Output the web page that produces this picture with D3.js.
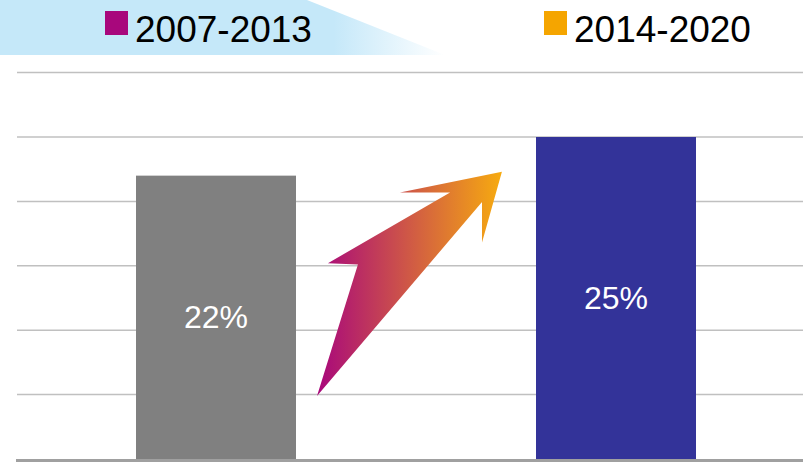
<!DOCTYPE html>
<html>
<head>
<meta charset="utf-8">
<script src="https://cdn.jsdelivr.net/npm/d3@7"></script>
<style>
  body { margin: 0; background: #fff; }
  svg { display: block; font-family: "Liberation Sans", Arial, sans-serif; }
</style>
</head>
<body>
<div id="chart"></div>
<script>
// data
var periods = ["2007-2013", "2014-2020"];
var shares = [22, 25];
var barColors = ["#808080", "#333399"];
var legendColors = ["#a8077c", "#f5a500"];
var gridTicks = [5, 10, 15, 20, 25, 30];

// arrow outline: x as fraction of the gap between bars, y in percent
var arrowX = [0.0875, 0.258, 0.133, 0.642, 0.433, 0.858, 0.775, 0.775];
var arrowY = [4.9, 15.1, 15.2, 20.7, 20.7, 22.3, 16.8, 19.95];

var width = 803, height = 462;
var baseY = 459;

var svg = d3.select("#chart").append("svg")
    .attr("width", width)
    .attr("height", height);

var defs = svg.append("defs");

var bannerGrad = defs.append("linearGradient")
    .attr("id", "bannerGrad")
    .attr("x1", "0").attr("x2", "1").attr("y1", "0").attr("y2", "0");
bannerGrad.append("stop").attr("offset", "0.75").attr("stop-color", "#c5e8f9");
bannerGrad.append("stop").attr("offset", "1").attr("stop-color", "#c5e8f9").attr("stop-opacity", 0);

var arrowGrad = defs.append("linearGradient")
    .attr("id", "arrowGrad")
    .attr("x1", "0").attr("x2", "1").attr("y1", "0").attr("y2", "0");
arrowGrad.append("stop").attr("offset", "0").attr("stop-color", "#a8077c");
arrowGrad.append("stop").attr("offset", "1").attr("stop-color", "#f7ab0f");

// top banner
svg.append("path")
    .attr("d", "M0,0 L307,0 L445,55 L0,55 Z")
    .attr("fill", "url(#bannerGrad)");

// scales
var x = d3.scaleBand()
    .domain(periods)
    .range([16, 816])
    .paddingInner(0.6)
    .paddingOuter(0.3);

var y = d3.scaleLinear()
    .domain([0, 30])
    .range([baseY, baseY - 386.4]);

// gridlines
svg.append("g").selectAll("line")
    .data(gridTicks)
    .enter()
    .append("line")
    .attr("x1", 17)
    .attr("x2", width)
    .attr("y1", function (d) { return y(d); })
    .attr("y2", function (d) { return y(d); })
    .attr("stroke", "#c0c0c0")
    .attr("stroke-width", 1.5);

// bars
svg.append("g").selectAll("rect")
    .data(shares)
    .enter()
    .append("rect")
    .attr("x", function (d, i) { return x(periods[i]); })
    .attr("y", function (d) { return y(d); })
    .attr("width", x.bandwidth())
    .attr("height", function (d) { return baseY - y(d); })
    .attr("fill", function (d, i) { return barColors[i]; });

// bar labels
svg.append("g").selectAll("text")
    .data(shares)
    .enter()
    .append("text")
    .attr("x", function (d, i) { return x(periods[i]) + x.bandwidth() / 2; })
    .attr("y", function (d) { return (y(d) + baseY) / 2 + 11; })
    .attr("text-anchor", "middle")
    .attr("fill", "#fff")
    .attr("font-size", 32)
    .text(function (d) { return d + "%"; });

// arrow between bars
var gapX = d3.scaleLinear()
    .domain([0, 1])
    .range([x(periods[0]) + x.bandwidth(), x(periods[1])]);

var arrowPts = arrowX.map(function (d, i) { return [gapX(d), y(arrowY[i])]; });
svg.append("path")
    .attr("d", d3.line()(arrowPts) + "Z")
    .attr("fill", "url(#arrowGrad)");

// x axis baseline
var axis = svg.append("g")
    .attr("transform", "translate(0," + baseY + ")");
axis.append("line")
    .attr("x1", 16).attr("x2", width)
    .attr("y1", 1.5).attr("y2", 1.5)
    .attr("stroke", "#a0a0a0")
    .attr("stroke-width", 3);
axis.append("line")
    .attr("x1", x.step() + 16).attr("x2", x.step() + 16)
    .attr("y1", 0).attr("y2", 6)
    .attr("stroke", "#a0a0a0")
    .attr("stroke-width", 1.5);

// legend
var legendX = [105, 544];
var legend = svg.append("g").selectAll("g")
    .data(periods)
    .enter()
    .append("g")
    .attr("transform", function (d, i) { return "translate(" + legendX[i] + ",0)"; });

legend.append("rect")
    .attr("x", 0).attr("y", 11)
    .attr("width", 23).attr("height", 24)
    .attr("fill", function (d, i) { return legendColors[i]; });

legend.append("text")
    .attr("x", 30)
    .attr("y", 42)
    .attr("font-size", 37)
    .attr("fill", "#000")
    .text(function (d) { return d; });
</script>
</body>
</html>
